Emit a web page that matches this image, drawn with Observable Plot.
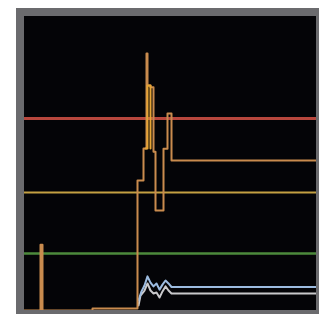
<!DOCTYPE html>
<html><head><meta charset="utf-8">
<script src="https://cdn.jsdelivr.net/npm/d3@7"></script>
<script src="https://cdn.jsdelivr.net/npm/@observablehq/plot@0.6"></script>
<style>
html,body{margin:0;padding:0;background:#fff;}
#frame{position:absolute;left:16px;top:8px;width:295px;height:294px;background:#6b6b6e;padding:8px 3px 4px 8px;}
#frame svg{display:block;background:#040407;}
</style></head><body>
<div id="frame"></div>
<script>
// thresholds
const thresholdNames = ["red", "yellow", "green"];
const thresholdValues = [65.3, 40.1, 19.4];
const thresholdColors = ["#b8473d", "#c4a042", "#4c8a3c"];
const thresholdWidths = [3, 2, 2.5];

// orange signal (step)
const orangeT = [0, 16, 18, 68, 113, 119, 122, 123, 126, 129, 131, 139, 143, 147, 292];
const orangeV = [0, 22.4, 0, 0.7, 44.2, 55.1, 87.4, 76.5, 75.9, 54, 34, 55, 67, 51, 51];

// bright amber overlay around the peak
const amberT = [121, 123, 126];
const amberV = [55.1, 76.5, 55.1];

// blue and white signals
const blueT = [114, 117, 120, 123, 126, 129, 132, 135, 138, 141, 144, 147, 292];
const blueV = [3.4, 6.5, 8.5, 11.6, 9.5, 8.2, 9.2, 7.1, 8.8, 10.2, 9.2, 8.0, 8.0];
const whiteT = [114, 116, 120, 123, 126, 129, 132, 135, 138, 141, 144, 147, 292];
const whiteV = [1.7, 5.1, 6.8, 9.2, 6.8, 5.8, 6.1, 4.4, 6.5, 8.2, 6.8, 5.8, 5.8];

const thr = thresholdNames.map((n, i) => ({n, v: thresholdValues[i], c: thresholdColors[i], w: thresholdWidths[i]}));
const orange = orangeT.map((t, i) => ({t, v: orangeV[i]}));
const amber = amberT.map((t, i) => ({t, v: amberV[i]}));
const blue = blueT.map((t, i) => ({t, v: blueV[i]}));
const white = whiteT.map((t, i) => ({t, v: whiteV[i]}));

const chart = Plot.plot({
  width: 292, height: 294,
  margin: 0,
  x: {domain: [0, 292], axis: null},
  y: {domain: [0, 100], axis: null},
  marks: [
    ...thr.map(d => Plot.ruleY([d.v], {stroke: d.c, strokeWidth: d.w})),
    Plot.line(white, {x: "t", y: "v", stroke: "#c9c9cc", strokeWidth: 2}),
    Plot.line(blue, {x: "t", y: "v", stroke: "#9cbbe0", strokeWidth: 2}),
    Plot.line(orange, {x: "t", y: "v", curve: "step-after", stroke: "#c98b4e", strokeWidth: 2}),
    Plot.line(amber, {x: "t", y: "v", curve: "step-after", stroke: "#e6a535", strokeWidth: 2})
  ]
});
document.getElementById("frame").appendChild(chart);
</script>
</body></html>
